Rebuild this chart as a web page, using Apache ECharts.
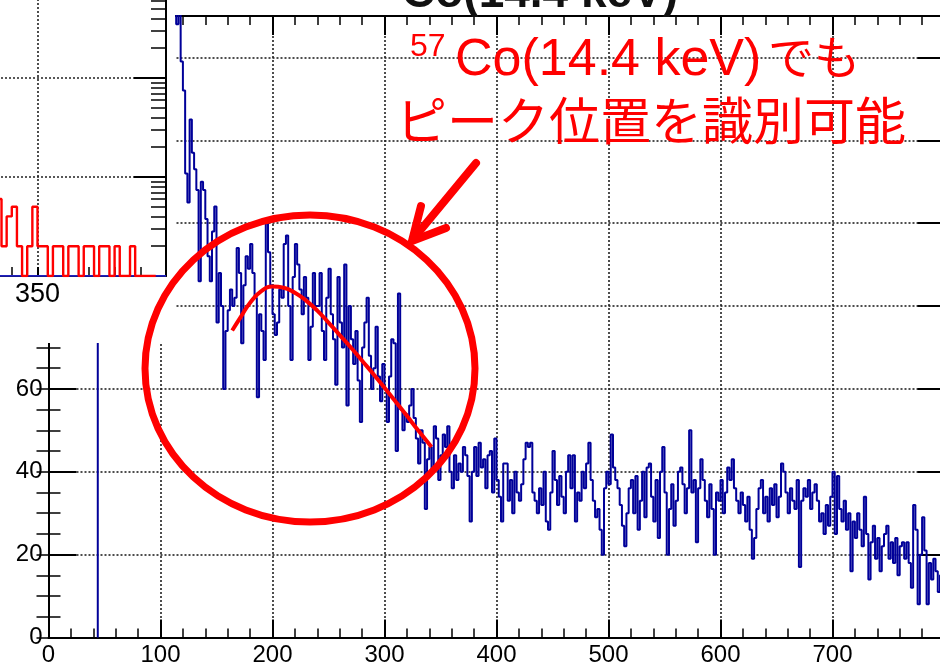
<!DOCTYPE html>
<html>
<head>
<meta charset="utf-8">
<script src="https://cdn.jsdelivr.net/npm/echarts@6/dist/echarts.min.js"></script>
<style>
  html, body { margin: 0; padding: 0; background: #fff; }
  #chart { width: 940px; height: 666px; }
</style>
</head>
<body>
<div id="chart"></div>
<script>
// ---- main spectrum: counts per 2-channel bin, first bin starts at channel 44 ----
const BIN_WIDTH = 2;
const FIRST_EDGE = 44;
const countsLow = [            // 44 – 112
  1450, 1380, 1290, 1180, 1100, 1020, 940, 880, 810, 760,
  700, 650, 600, 560, 520, 480, 445, 410, 380, 352,
  330, 305, 285, 268, 250, 236, 222, 210, 198, 188,
  180, 174, 168, 162, 157
];
const counts114 = [            // 114 – 238
  148, 160, 139, 132, 112, 105, 125, 117, 113, 108,
  86, 110, 108, 101, 92, 86, 98, 104, 76, 88,
  80, 60, 74, 79, 84, 80, 82, 94, 88, 71,
  85, 92, 89, 95, 88, 82, 58, 78, 74, 67,
  100, 93, 85, 78, 73, 76, 84, 82, 95, 97,
  80, 67, 87, 95, 90, 84, 78, 87, 82, 67,
  75, 88, 80
];
const counts240 = [            // 240 – 378
  80, 88, 74, 67, 82, 89, 78, 72, 61, 87,
  76, 70, 90, 56, 80, 72, 66, 74, 62, 52,
  70, 76, 82, 68, 60, 65, 75, 63, 57, 66,
  60, 52, 63, 72, 71, 45, 83, 55, 50, 54,
  52, 56, 60, 53, 48, 42, 50, 47, 31, 43,
  46, 40, 51, 48, 38, 44, 49, 46, 51, 40,
  36, 44, 38, 42, 40, 46, 44, 39, 28, 40
];
const counts380 = [            // 380 – 518
  46, 39, 47, 41, 43, 36, 44, 45, 35, 48,
  38, 34, 28, 42, 42, 33, 38, 30, 40, 35,
  33, 37, 43, 47, 46, 47, 35, 33, 30, 36,
  32, 40, 28, 26, 35, 45, 38, 32, 39, 34,
  30, 40, 44, 36, 44, 28, 35, 33, 40, 36,
  42, 47, 38, 33, 29, 31, 26, 20, 36, 40,
  37, 49, 41, 38, 36, 32, 27, 22, 30, 36
];
const counts520 = [            // 520 – 658
  38, 30, 39, 26, 33, 40, 29, 41, 42, 34,
  28, 38, 24, 40, 46, 35, 20, 31, 37, 27,
  33, 40, 41, 37, 30, 36, 50, 35, 38, 23,
  36, 43, 38, 33, 29, 37, 31, 20, 35, 33,
  38, 30, 35, 41, 38, 43, 36, 33, 30, 35,
  32, 28, 34, 26, 19, 24, 31, 36, 38, 30,
  34, 28, 36, 32, 37, 29, 34, 42, 40, 35
];
const counts660 = [            // 660 – 798
  30, 36, 33, 31, 38, 17, 33, 36, 34, 38,
  31, 35, 37, 33, 28, 30, 25, 32, 27, 34,
  40, 25, 39, 31, 28, 33, 26, 30, 16, 28,
  24, 30, 26, 22, 34, 25, 14, 23, 27, 19,
  24, 16, 22, 25, 27, 19, 23, 18, 24, 15,
  22, 23, 19, 23, 18, 12, 32, 26, 8, 20,
  29, 21, 8, 18, 14, 19, 16, 11, 15, 13
];

// ---- fitted peak curve (channel, counts) ----
const fitX = [164, 172, 180, 190, 200, 210, 220, 230, 240, 250, 260, 270, 280, 290, 300, 310, 320, 330, 342];
const fitY = [74.1, 77.5, 80.8, 83.6, 84.7, 84.4, 83.2, 81.3, 78.9, 76.0, 73.0, 70.0, 66.8, 63.6, 60.3, 56.9, 53.5, 50.0, 46.0];

// ---- side panel (log scale): counts per 2-channel bin from channel 334 ----
const INSET_FIRST_EDGE = 334;
const insetCounts = [6, 2, 4, 5, 2, 1, 2, 5, 2, 2, 1, 2, 2, 1, 2, 2, 1, 2, 2, 1, 2, 2, 1, 2, 1, 1, 2, 1, 1, 1, 1];
const INSET_REF_FIRST_EDGE = 330;
const INSET_REF_WIDTH = 10;
const insetRefCounts = [1, 1, 1, 1, 1, 1, 1];

// ---- axis tick labels ----
const xTickLabels = ['0', '100', '200', '300', '400', '500', '600', '700'];
const yTickLabels = ['0', '20', '40', '60', '80', '100', '120', '140'];
const insetMajorTicks = [1, 10, 100, 1000];
const insetMinorTicks = [2, 3, 4, 5, 6, 7, 8, 9, 20, 30, 40, 50, 60, 70, 80, 90, 200, 300, 400, 500, 600, 700, 800, 900];

// step-histogram points: each bin's left edge carries its count
function histPoints(firstEdge, width, values, riseFromZero) {
  const pts = [];
  if (riseFromZero) pts.push([firstEdge, 0]);
  values.forEach((v, i) => pts.push([firstEdge + i * width, v]));
  pts.push([firstEdge + values.length * width, values[values.length - 1]]);
  return pts;
}

const counts = [].concat(countsLow, counts114, counts240, counts380, counts520, counts660);
const mainHist = histPoints(FIRST_EDGE, BIN_WIDTH, counts, true);
const fitCurve = fitX.map((x, i) => [x, fitY[i]]);
const insetHist = histPoints(INSET_FIRST_EDGE, BIN_WIDTH, insetCounts, false);
const insetRefHist = histPoints(INSET_REF_FIRST_EDGE, INSET_REF_WIDTH, insetRefCounts, false);

const FONT = "'Liberation Sans', Arial, Helvetica, sans-serif";
const JP_FONT = "'Liberation Sans', 'Noto Sans CJK JP', sans-serif";
const dotted = { type: [2, 2], color: '#222', width: 1.6 };
const black2 = { color: '#000', width: 2 };
const black15 = { color: '#000', width: 1.5 };

const chart = echarts.init(document.getElementById('chart'), null, { renderer: 'canvas' });

chart.setOption({
  animation: false,
  backgroundColor: '#fff',
  grid: [
    { left: 48.5, width: 896, top: 16, bottom: 28.5, outerBoundsMode: 'none', containLabel: false },
    { left: -91, width: 257, top: -21, height: 297, outerBoundsMode: 'none', containLabel: false }
  ],
  xAxis: [
    {
      gridIndex: 0, type: 'value', position: 'bottom', min: 0, max: 800, interval: 100, z: 1,
      axisLine: { show: true, onZero: false, lineStyle: black2 },
      axisTick: { show: true, inside: true, length: 18, lineStyle: black2 },
      minorTick: { show: true, splitNumber: 5, length: 9, lineStyle: black15 },
      axisLabel: {
        color: '#000', fontSize: 24, fontFamily: FONT, margin: 6, showMaxLabel: false,
        formatter: v => xTickLabels[Math.round(v / 100)] || ''
      },
      splitLine: { show: true, lineStyle: dotted }
    },
    {
      gridIndex: 0, type: 'value', position: 'top', min: 0, max: 800, interval: 100, z: 1,
      axisLine: { show: true, onZero: false, lineStyle: black2 },
      axisTick: { show: true, inside: true, length: 19, lineStyle: black2 },
      minorTick: { show: true, splitNumber: 5, length: 9, lineStyle: black15 },
      axisLabel: { show: false },
      splitLine: { show: false }
    },
    {
      gridIndex: 1, type: 'value', position: 'bottom', min: 300, max: 400, interval: 50, z: 5,
      axisLine: { show: true, onZero: false, lineStyle: black2 },
      axisTick: { show: true, inside: true, length: 9, lineStyle: black2 },
      minorTick: { show: true, splitNumber: 5, length: 9, lineStyle: black15 },
      axisLabel: { color: '#000', fontSize: 27, fontFamily: FONT, margin: 5, showMaxLabel: false, showMinLabel: false },
      splitLine: { show: true, lineStyle: dotted }
    }
  ],
  yAxis: [
    {
      gridIndex: 0, type: 'value', position: 'left', min: 0, max: 150, interval: 20, z: 1,
      axisLine: { show: true, onZero: false, lineStyle: black2 },
      axisTick: { show: true, inside: true, length: 28, lineStyle: black2 },
      axisLabel: {
        color: '#000', fontSize: 24, fontFamily: FONT, margin: 6, showMaxLabel: false,
        formatter: v => yTickLabels[Math.round(v / 20)] || ''
      },
      splitLine: { show: true, lineStyle: dotted }
    },
    {
      gridIndex: 0, type: 'value', position: 'left', min: 0, max: 150, interval: 5, z: 1,
      axisLine: { show: false },
      axisTick: { show: true, inside: true, length: 12, lineStyle: black15 },
      axisLabel: { show: false }, splitLine: { show: false }
    },
    {
      gridIndex: 0, type: 'value', position: 'right', min: 0, max: 150, interval: 20, z: 1,
      axisLine: { show: true, onZero: false, lineStyle: black2 },
      axisTick: { show: true, inside: true, length: 27, lineStyle: black2 },
      axisLabel: { show: false }, splitLine: { show: false }
    },
    {
      gridIndex: 0, type: 'value', position: 'right', min: 0, max: 150, interval: 5, z: 1,
      axisLine: { show: false },
      axisTick: { show: true, inside: true, length: 12, lineStyle: black15 },
      axisLabel: { show: false }, splitLine: { show: false }
    },
    {
      gridIndex: 1, type: 'log', logBase: 10, position: 'right', min: 1, max: 1000, z: 5,
      axisLine: { show: true, onZero: false, lineStyle: black2 },
      axisTick: { show: true, inside: true, length: 32, lineStyle: black2, customValues: insetMajorTicks },
      axisLabel: { show: false },
      splitLine: { show: true, lineStyle: dotted }
    },
    {
      gridIndex: 1, type: 'log', logBase: 10, position: 'right', min: 1, max: 1000, z: 5,
      axisLine: { show: false },
      axisTick: { show: true, inside: true, length: 15, lineStyle: black15, customValues: insetMinorTicks },
      axisLabel: { show: false }, splitLine: { show: false }
    }
  ],
  series: [
    {
      name: 'spectrum', type: 'line', xAxisIndex: 0, yAxisIndex: 0, data: mainHist,
      step: 'end', showSymbol: false, symbol: 'none', clip: true, z: 2,
      lineStyle: { color: '#000099', width: 2 }
    },
    {
      name: 'fit', type: 'line', xAxisIndex: 0, yAxisIndex: 0, data: fitCurve,
      smooth: true, showSymbol: false, symbol: 'none', z: 3,
      lineStyle: { color: '#ff0000', width: 4 }
    },
    {
      name: 'inset-ref', type: 'line', xAxisIndex: 2, yAxisIndex: 4, data: insetRefHist,
      step: 'end', showSymbol: false, symbol: 'none', z: 6,
      lineStyle: { color: '#2b2bff', width: 1.6 }
    },
    {
      name: 'inset', type: 'line', xAxisIndex: 2, yAxisIndex: 4, data: insetHist,
      step: 'end', showSymbol: false, symbol: 'none', z: 7,
      lineStyle: { color: '#ff0000', width: 2.4 }
    }
  ],
  graphic: {
    elements: [
      { type: 'rect', silent: true, z: 4, shape: { x: 0, y: 0, width: 175, height: 343 }, style: { fill: '#fff' } },
      { type: 'text', z: 8, x: 402, y: -6,
        style: { text: 'Co(14.4 keV)', fill: '#111', fontSize: 46, fontWeight: 'bold', fontFamily: FONT, align: 'left', verticalAlign: 'middle' } },
      { type: 'ellipse', z: 8, shape: { cx: 310, cy: 368.5, rx: 165, ry: 153.5 },
        style: { fill: 'none', stroke: '#ff0000', lineWidth: 7 } },
      { type: 'line', z: 8, shape: { x1: 476, y1: 163, x2: 414, y2: 238 },
        style: { stroke: '#ff0000', lineWidth: 8, lineCap: 'round' } },
      { type: 'polyline', z: 8, shape: { points: [[421, 206], [412, 241], [446, 228]] },
        style: { fill: 'none', stroke: '#ff0000', lineWidth: 8, lineCap: 'round', lineJoin: 'miter' } },
      { type: 'text', z: 8, x: 410, y: 47,
        style: { text: '57', fill: '#ff0000', fontSize: 32, fontFamily: FONT, align: 'left', verticalAlign: 'middle' } },
      { type: 'text', z: 8, x: 455, y: 61,
        style: { text: 'Co(14.4 keV)', fill: '#ff0000', fontSize: 52, fontFamily: FONT, align: 'left', verticalAlign: 'middle' } },
      { type: 'text', z: 8, x: 768, y: 61,
        style: { text: 'でも', fill: '#ff0000', fontSize: 46, fontFamily: JP_FONT, align: 'left', verticalAlign: 'middle' } },
      { type: 'text', z: 8, x: 396, y: 126,
        style: { text: 'ピーク位置を識別可能', fill: '#ff0000', fontSize: 51, fontFamily: JP_FONT, align: 'left', verticalAlign: 'middle' } }
    ]
  }
});
</script>
</body>
</html>
